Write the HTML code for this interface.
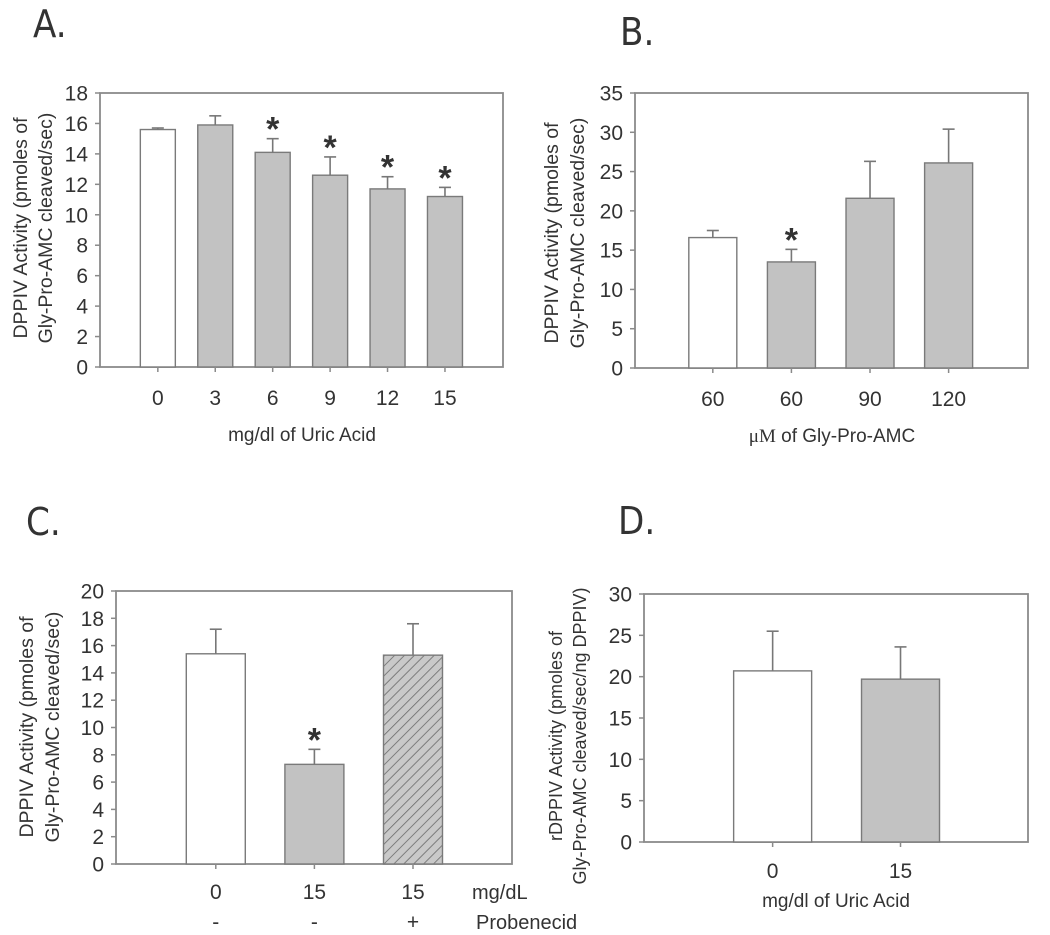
<!DOCTYPE html>
<html>
<head>
<meta charset="utf-8">
<style>
  html, body { margin: 0; padding: 0; background: #fff; }
  svg { display: block; }
  text { font-family: "Liberation Sans", Arial, sans-serif; fill: #333; }
</style>
</head>
<body>
<svg id="fig" width="1050" height="935" viewBox="0 0 1050 935" xmlns="http://www.w3.org/2000/svg">
  <defs>
    <pattern id="hatch" patternUnits="userSpaceOnUse" width="7" height="7" patternTransform="rotate(45)">
      <rect width="7" height="7" fill="#c9c9c9"></rect>
      <line x1="0" y1="0" x2="0" y2="7" stroke="#6a6a6a" stroke-width="1.6"></line>
    </pattern>
  </defs>
  <text x="33" y="37" font-size="38" style="font-family:'DejaVu Sans Condensed','Liberation Sans Narrow','Liberation Sans',sans-serif" fill="#111">A.</text>
  <text x="620" y="45" font-size="38" style="font-family:'DejaVu Sans Condensed','Liberation Sans Narrow','Liberation Sans',sans-serif" fill="#111">B.</text>
  <text x="26" y="535" font-size="38" style="font-family:'DejaVu Sans Condensed','Liberation Sans Narrow','Liberation Sans',sans-serif" fill="#111">C.</text>
  <text x="618" y="534" font-size="38" style="font-family:'DejaVu Sans Condensed','Liberation Sans Narrow','Liberation Sans',sans-serif" fill="#111">D.</text>
</svg>
<script>
// Panel A data
const aCategories = ["0", "3", "6", "9", "12", "15"];
const aValues = [15.6, 15.9, 14.1, 12.6, 11.7, 11.2];
const aErrors = [0.1, 0.6, 0.9, 1.2, 0.8, 0.6];
const aSig = [false, false, true, true, true, true];
const aTicks = [0, 2, 4, 6, 8, 10, 12, 14, 16, 18];
// Panel B data
const bCategories = ["60", "60", "90", "120"];
const bValues = [16.6, 13.5, 21.6, 26.1];
const bErrors = [0.9, 1.6, 4.7, 4.3];
const bSig = [false, true, false, false];
const bTicks = [0, 5, 10, 15, 20, 25, 30, 35];
// Panel C data
const cCategories = ["0", "15", "15"];
const cProbenecid = ["-", "-", "+"];
const cValues = [15.4, 7.3, 15.3];
const cErrors = [1.8, 1.1, 2.3];
const cSig = [false, true, false];
const cTicks = [0, 2, 4, 6, 8, 10, 12, 14, 16, 18, 20];
// Panel D data
const dCategories = ["0", "15"];
const dValues = [20.7, 19.7];
const dErrors = [4.8, 3.9];
const dTicks = [0, 5, 10, 15, 20, 25, 30];

const NS = "http://www.w3.org/2000/svg";
const svg = document.getElementById("fig");
function mk(tag, attrs, parent) {
  const e = document.createElementNS(NS, tag);
  for (const k in attrs) e.setAttribute(k, attrs[k]);
  (parent || svg).appendChild(e);
  return e;
}

function panel(p) {
  const g = mk("g", {});
  
  
  const ymax = p.ticks[p.ticks.length - 1];
  const y = v => p.bottom - (v / ymax) * (p.bottom - p.top);
  const n = p.categories.length;
  const x = i => p.left + (p.right - p.left) * (p.c0 + i * p.step);
  const frame = mk("rect", {x: p.left, y: p.top, width: p.right - p.left, height: p.bottom - p.top, fill: "none", stroke: "#8a8a8a", "stroke-width": 1.8}, g);
  
  
  p.ticks.forEach(t => {
    const ty = y(t);
    const tk = mk("line", {x1: p.left - 5, x2: p.left, y1: ty, y2: ty, stroke: "#8a8a8a", "stroke-width": 1.5}, g);
    
    
    const tl = mk("text", {x: p.left - 12, y: ty + 7.5, "font-size": 21, "text-anchor": "end"}, g);
    tl.textContent = t;
    
    
  });
  for (let i = 0; i < n; i++) {
    const cx = x(i);
    const v = p.values[i];
    const fill = p.fills[i];
    const bar = mk("rect", {x: cx - p.bw / 2, y: y(v), width: p.bw, height: p.bottom - y(v), fill: fill, stroke: "#7a7a7a", "stroke-width": 1.4}, g);
    
    
    const et = y(v + p.errors[i]);
    const eb = mk("line", {x1: cx, x2: cx, y1: y(v), y2: et, stroke: "#777", "stroke-width": 1.6}, g);
    
    
    const cap = mk("line", {x1: cx - 6, x2: cx + 6, y1: et, y2: et, stroke: "#777", "stroke-width": 1.6}, g);
    
    
    const xt = mk("line", {x1: cx, x2: cx, y1: p.bottom, y2: p.bottom + 5, stroke: "#8a8a8a", "stroke-width": 1.5}, g);
    
    
    if (p.sig && p.sig[i]) {
      const s = mk("text", {x: cx, y: et + 2, "font-size": 34, "font-weight": "bold", "text-anchor": "middle", fill: "#111"}, g);
      s.textContent = "*";
      
      
    }
    const cl = mk("text", {x: cx, y: p.catY, "font-size": 21, "text-anchor": "middle"}, g);
    cl.textContent = p.categories[i];
    
    
  }
  const tcx = p.titleY;
  p.titleLines.forEach((line, k) => {
    const tx = p.titleX[k];
    const t = mk("text", {x: tx, y: tcx, "font-size": p.titleSize, "text-anchor": "middle", transform: "rotate(-90 " + tx + " " + tcx + ")"}, g);
    t.textContent = line;
    
    
  });
  if (p.xlabel) {
    const xl = mk("text", {x: p.xlabelX, y: p.xlabelY, "font-size": 19, "text-anchor": "middle"}, g);
    xl.innerHTML = p.xlabel;
    
    
  }
  return {g, x, y};
}

const WHITE = "#ffffff", GRAY = "#c2c2c2";

panel({name: "panel-a", left: 100, right: 503, top: 93, bottom: 367, ticks: aTicks,
  categories: aCategories, values: aValues, errors: aErrors, sig: aSig,
  fills: [WHITE, GRAY, GRAY, GRAY, GRAY, GRAY],
  c0: 0.1435, step: 0.1425, bw: 35, catY: 405,
  titleLines: ["DPPIV Activity (pmoles of", "Gly-Pro-AMC cleaved/sec)"], titleX: [27, 52], titleY: 228, titleSize: 19.5,
  xlabel: "mg/dl of Uric Acid", xlabelX: 302, xlabelY: 441});

panel({name: "panel-b", left: 635, right: 1028, top: 93, bottom: 368, ticks: bTicks,
  categories: bCategories, values: bValues, errors: bErrors, sig: bSig,
  fills: [WHITE, GRAY, GRAY, GRAY],
  c0: 0.198, step: 0.2, bw: 48, catY: 406,
  titleLines: ["DPPIV Activity (pmoles of", "Gly-Pro-AMC cleaved/sec)"], titleX: [558, 584], titleY: 233, titleSize: 19.5,
  xlabel: "<tspan style=\"font-family:'Liberation Serif',serif\">\u03bcM</tspan>  of Gly-Pro-AMC", xlabelX: 832, xlabelY: 442});

const pc = panel({name: "panel-c", left: 116, right: 512, top: 591, bottom: 864, ticks: cTicks,
  categories: cCategories, values: cValues, errors: cErrors, sig: cSig,
  fills: [WHITE, GRAY, "url(#hatch)"],
  c0: 0.252, step: 0.249, bw: 59, catY: 899,
  titleLines: ["DPPIV Activity (pmoles of", "Gly-Pro-AMC cleaved/sec)"], titleX: [33, 59], titleY: 727, titleSize: 19.5});
cProbenecid.forEach((s, i) => {
  const t = mk("text", {x: pc.x(i), y: 929, "font-size": 21, "text-anchor": "middle"}, pc.g);
  t.textContent = s;
  
  
});
const unitLbl = mk("text", {x: 472, y: 899, "font-size": 20}, pc.g);
unitLbl.textContent = "mg/dL";


const probLbl = mk("text", {x: 476, y: 929, "font-size": 20}, pc.g);
probLbl.textContent = "Probenecid";



panel({name: "panel-d", left: 644, right: 1028, top: 594, bottom: 842, ticks: dTicks,
  categories: dCategories, values: dValues, errors: dErrors, sig: null,
  fills: [WHITE, GRAY],
  c0: 0.335, step: 0.333, bw: 78, catY: 878,
  titleLines: ["rDPPIV Activity (pmoles of", "Gly-Pro-AMC cleaved/sec/ng DPPIV)"], titleX: [562, 586], titleY: 736, titleSize: 18,
  xlabel: "mg/dl of Uric Acid", xlabelX: 836, xlabelY: 907});
</script>
</body>
</html>
